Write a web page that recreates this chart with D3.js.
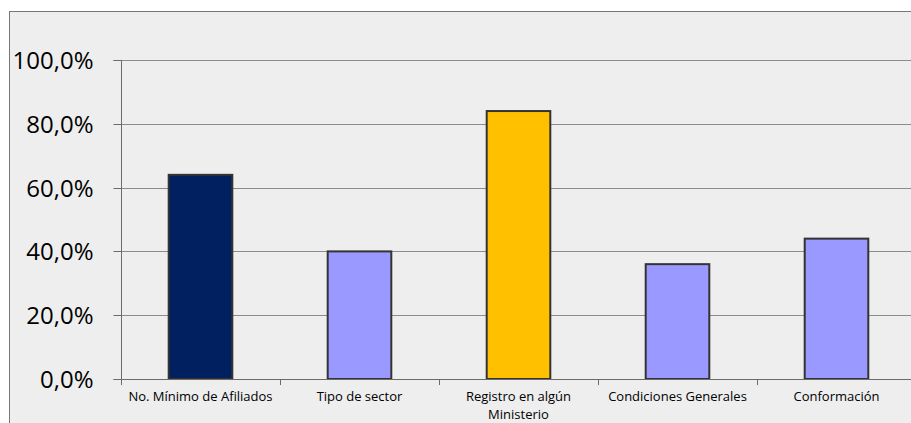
<!DOCTYPE html>
<html><head><meta charset="utf-8">
<script src="https://cdn.jsdelivr.net/npm/d3@7"></script>
<style>html,body{margin:0;padding:0;background:#fff;}svg{display:block;}</style>
</head><body>
<svg id="c" width="911" height="423"></svg>
<script>
const categories = ["No. Mínimo de Afiliados", "Tipo de sector", "Registro en algún Ministerio", "Condiciones Generales", "Conformación"];
const values = [0.64, 0.40, 0.84, 0.36, 0.44];
const barColors = ["#002060", "#9999FF", "#FFC000", "#9999FF", "#9999FF"];
const yTicks = [0, 0.2, 0.4, 0.6, 0.8, 1.0];

const svg = d3.select("#c");
// outer frame
svg.append("rect").attr("x", 9.5).attr("y", 11.5).attr("width", 1000).attr("height", 1000)
  .attr("fill", "#EEEEEE").attr("stroke", "#777").attr("stroke-width", 1);

const x0 = 121, x1 = 916, yTop = 60, yBot = 379;
const x = d3.scaleBand().domain(categories).range([x0, x1]).paddingInner(0.6).paddingOuter(0.3);
const y = d3.scaleLinear().domain([0, 1]).range([yBot, yTop]);

// gridlines
svg.append("g").selectAll("line").data(yTicks.filter(d => d > 0)).join("line")
  .attr("x1", x0).attr("x2", x1)
  .attr("y1", d => Math.round(y(d)) + 0.5).attr("y2", d => Math.round(y(d)) + 0.5)
  .attr("stroke", "#8c8c8c").attr("stroke-width", 1);

// y axis
const yAxis = d3.axisLeft(y).tickValues(yTicks).tickSize(8).tickPadding(20)
  .tickFormat(d => d3.format(".1f")(d * 100).replace(".", ",") + "%");
const gy = svg.append("g").attr("transform", `translate(${x0 + 0.5},0.5)`).call(yAxis);
gy.select(".domain").attr("stroke", "#6b6b6b").attr("d", `M-8,${Math.round(yBot)}H0V${Math.round(yTop)}H-8`);
gy.selectAll(".tick line").attr("stroke", "#6b6b6b");
gy.selectAll(".tick").attr("transform", d => `translate(0,${Math.round(y(d))})`);
gy.selectAll("text").attr("font-family", "'Open Sans', sans-serif").attr("font-size", 24)
  .attr("fill", "#000").attr("dy", "0.36em");

// bars
svg.append("g").selectAll("rect").data(categories).join("rect")
  .attr("x", d => x(d)).attr("width", x.bandwidth())
  .attr("y", (d, i) => y(values[i])).attr("height", (d, i) => yBot - y(values[i]))
  .attr("fill", (d, i) => barColors[i]).attr("stroke", "#333").attr("stroke-width", 2);

// x axis
const step = (x1 - x0) / categories.length;
const gx = svg.append("g");
gx.append("line").attr("x1", x0).attr("x2", x1).attr("y1", yBot + 0.5).attr("y2", yBot + 0.5).attr("stroke", "#6b6b6b");
gx.selectAll("line.t").data(d3.range(categories.length + 1)).join("line").attr("class", "t")
  .attr("x1", i => x0 + i * step + 0.5).attr("x2", i => x0 + i * step + 0.5)
  .attr("y1", yBot).attr("y2", yBot + 6).attr("stroke", "#6b6b6b");

const labelLines = [["No. Mínimo de Afiliados"], ["Tipo de sector"], ["Registro en algún", "Ministerio"], ["Condiciones Generales"], ["Conformación"]];
gx.selectAll("text").data(categories).join("text")
  .attr("x", d => x(d) + x.bandwidth() / 2).attr("y", 401)
  .attr("text-anchor", "middle").attr("font-family", "'Open Sans', sans-serif").attr("font-size", 13).attr("fill", "#000")
  .each(function(d, i) {
    const t = d3.select(this);
    labelLines[i].forEach((ln, k) => {
      t.append("tspan").attr("x", x(d) + x.bandwidth() / 2).attr("dy", k === 0 ? 0 : 18).text(ln);
    });
  });
</script>
</body></html>
